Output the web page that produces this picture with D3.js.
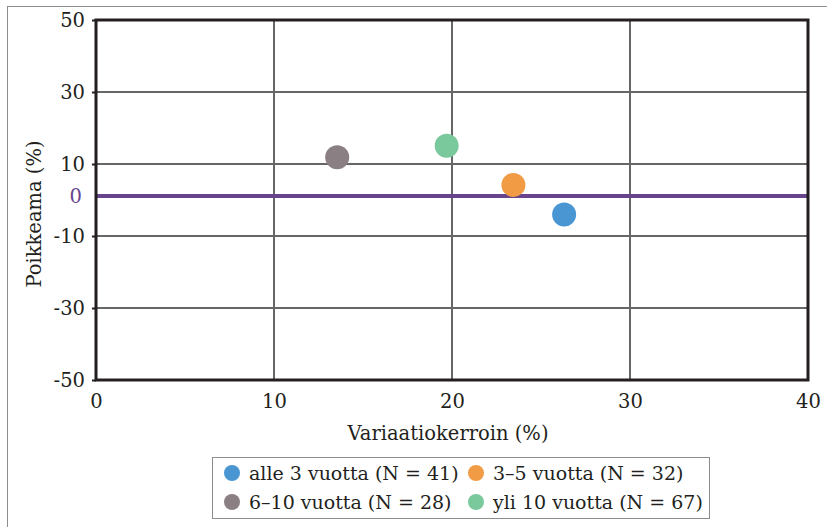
<!DOCTYPE html>
<html><head><meta charset="utf-8">
<script src="https://cdn.jsdelivr.net/npm/d3@7"></script>
<style>body{margin:0;background:#fff}svg{display:block}text{font-family:"DejaVu Serif","Liberation Serif",serif;fill:#231f20}</style>
</head><body>
<svg id="c" width="827" height="527"></svg>
<script>
const seriesNames = ["alle 3 vuotta (N = 41)", "3–5 vuotta (N = 32)", "6–10 vuotta (N = 28)", "yli 10 vuotta (N = 67)"];
const xValues = [26.3, 23.45, 13.55, 19.7];
const yValues = [-4.0, 4.2, 11.9, 15.1];
const seriesColors = ["#4a96d3", "#f19b45", "#8a7f83", "#79c99c"];
const xTicks = [0, 10, 20, 30, 40];
const yTicks = [50, 30, 10, -10, -30, -50];
const zeroLineValue = 1.1; // drawn reference line labelled "0"
const zeroLabel = "0";
const xTitle = "Variaatiokerroin (%)";
const yTitle = "Poikkeama (%)";

const FS = 19.5, LFS = 19;
const svg = d3.select("#c");
const L = 96, R = 808, T = 20, B = 380;
const x = d3.scaleLinear().domain([0, 40]).range([L, R]);
const y = d3.scaleLinear().domain([-50, 50]).range([B, T]);

// outer frame
svg.append("rect").attr("x", 7.5).attr("y", 6.5).attr("width", 830).attr("height", 530)
  .attr("fill", "none").attr("stroke", "#8c8c8c").attr("stroke-width", 1);

// grid
const g = svg.append("g");
g.selectAll(".gx").data(xTicks.slice(1, -1)).join("line")
  .attr("x1", d => x(d)).attr("x2", d => x(d)).attr("y1", T).attr("y2", B)
  .attr("stroke", "#666").attr("stroke-width", 2);
g.selectAll(".gy").data(yTicks.slice(1, -1)).join("line")
  .attr("x1", L).attr("x2", R).attr("y1", d => y(d)).attr("y2", d => y(d))
  .attr("stroke", "#666").attr("stroke-width", 2);

// zero line
svg.append("line").attr("x1", L).attr("x2", R).attr("y1", y(zeroLineValue)).attr("y2", y(zeroLineValue))
  .attr("stroke", "#67448b").attr("stroke-width", 4);

// frame
svg.append("rect").attr("x", L).attr("y", T).attr("width", R - L).attr("height", B - T)
  .attr("fill", "none").attr("stroke", "#231f20").attr("stroke-width", 3);

// axes
const fmt = d => String(d);
const xa = svg.append("g").attr("transform", `translate(0,${B})`)
  .call(d3.axisBottom(x).tickValues(xTicks).tickSize(0).tickPadding(14).tickFormat(fmt));
xa.select(".domain").remove();
xa.selectAll("text").attr("font-size", FS).attr("font-family", "DejaVu Serif").attr("fill", "#231f20");

const ya = svg.append("g").attr("transform", `translate(${L},0)`)
  .call(d3.axisLeft(y).tickValues(yTicks).tickSize(4).tickPadding(7).tickFormat(fmt));
ya.select(".domain").remove();
ya.selectAll("line").attr("stroke", "#231f20").attr("stroke-width", 2);
ya.selectAll("text").attr("font-size", FS).attr("font-family", "DejaVu Serif").attr("fill", "#231f20");

svg.append("text").attr("x", L - 14).attr("y", y(zeroLineValue)).attr("dy", "0.35em")
  .attr("text-anchor", "end").attr("font-size", FS).style("fill", "#67448b").text(zeroLabel);

// titles
svg.append("text").attr("x", (L + R) / 2 - 4).attr("y", 440).attr("text-anchor", "middle")
  .attr("font-size", FS).text(xTitle);
svg.append("text").attr("transform", `translate(41,${(T + B) / 2 + 14}) rotate(-90)`)
  .attr("text-anchor", "middle").attr("font-size", FS).text(yTitle);

// points
svg.selectAll(".pt").data(seriesNames).join("circle")
  .attr("cx", (d, i) => x(xValues[i])).attr("cy", (d, i) => y(yValues[i]))
  .attr("r", 12).attr("fill", (d, i) => seriesColors[i]);

// legend
svg.append("rect").attr("x", 212.5).attr("y", 457.5).attr("width", 497).attr("height", 61)
  .attr("fill", "#fff").attr("stroke", "#8c8c8c").attr("stroke-width", 1);
const lx = [232, 476], ly = [473, 502];
const lg = svg.selectAll(".lg").data(seriesNames).join("g")
  .attr("transform", (d, i) => `translate(${lx[i % 2]},${ly[Math.floor(i / 2)]})`);
lg.append("circle").attr("r", 8).attr("fill", (d, i) => seriesColors[i]);
lg.append("text").attr("x", 17).attr("dy", "0.35em").attr("font-size", LFS).text(d => d);
</script>
</body></html>
